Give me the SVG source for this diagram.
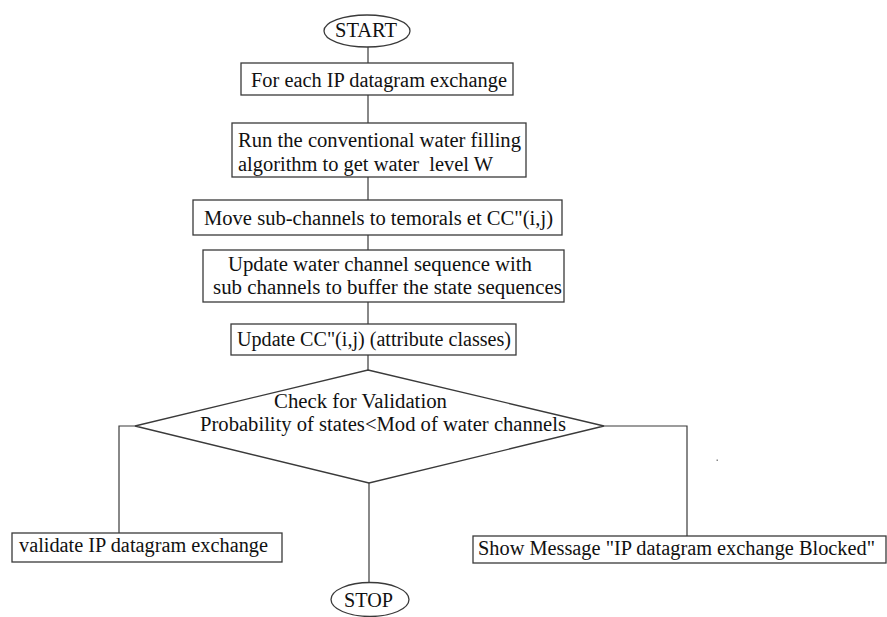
<svg xmlns="http://www.w3.org/2000/svg" width="887" height="617" viewBox="0 0 887 617">
<style>
.s{fill:#fff;stroke:#3a3a3a;stroke-width:1.3}
.c{fill:none;stroke:#3a3a3a;stroke-width:1.2}
.t{font-family:'Liberation Serif','DejaVu Serif',serif;font-size:20.5px;fill:#111}
</style>
<rect width="887" height="617" fill="#fff"/>
<g id="connectors">
<path class="c" d="M368 47V63M368 95V123M368 177V200M368 235V250M368 302V324M368 355V370"/>
<path class="c" d="M135 426H119V533"/>
<path class="c" d="M604 426H687V536"/>
<path class="c" d="M369 483V582"/>
</g>
<g class="t" font-family="Liberation Serif, DejaVu Serif, serif">
<g id="start">
<ellipse class="s" cx="367" cy="31" rx="43" ry="16"/>
<text x="335" y="37" textLength="62" lengthAdjust="spacingAndGlyphs">START</text>
</g>
<g id="n1">
<rect class="s" x="241" y="63" width="272" height="32"/>
<text x="251" y="87" textLength="256" lengthAdjust="spacingAndGlyphs">For each IP datagram exchange</text>
</g>
<g id="n2">
<rect class="s" x="232" y="123" width="294" height="54"/>
<text x="238" y="147" textLength="283" lengthAdjust="spacingAndGlyphs">Run the conventional water filling</text>
<text x="238" y="171" textLength="255" lengthAdjust="spacingAndGlyphs" xml:space="preserve">algorithm to get water  level W</text>
</g>
<g id="n3">
<rect class="s" x="193" y="200" width="369" height="35"/>
<text x="204" y="225" textLength="349" lengthAdjust="spacingAndGlyphs">Move sub-channels to temorals et CC"(i,j)</text>
</g>
<g id="n4">
<rect class="s" x="203" y="250" width="361" height="52"/>
<text x="228" y="271" textLength="304" lengthAdjust="spacingAndGlyphs">Update water channel sequence with</text>
<text x="213" y="294" textLength="349" lengthAdjust="spacingAndGlyphs">sub channels to buffer the state sequences</text>
</g>
<g id="n5">
<rect class="s" x="231" y="324" width="285" height="31"/>
<text x="237" y="346" textLength="274" lengthAdjust="spacingAndGlyphs">Update CC"(i,j) (attribute classes)</text>
</g>
<g id="decision">
<polygon class="s" points="368,370 604,426 369,483 135,426"/>
<text x="274" y="408" textLength="173" lengthAdjust="spacingAndGlyphs">Check for Validation</text>
<text x="200" y="431" textLength="366" lengthAdjust="spacingAndGlyphs">Probability of states&lt;Mod of water channels</text>
</g>
<g id="validate">
<rect class="s" x="12" y="533" width="270" height="29"/>
<text x="19" y="552" textLength="249" lengthAdjust="spacingAndGlyphs">validate IP datagram exchange</text>
</g>
<g id="blocked">
<rect class="s" x="473" y="536" width="413" height="27"/>
<text x="478" y="555" textLength="397" lengthAdjust="spacingAndGlyphs">Show Message "IP datagram exchange Blocked"</text>
</g>
<g id="stop">
<ellipse class="s" cx="370" cy="599.5" rx="39" ry="17"/>
<text x="344" y="607" textLength="49" lengthAdjust="spacingAndGlyphs">STOP</text>
</g>
</g>
<rect x="716.5" y="459.5" width="1.5" height="1.5" fill="#888"/>
</svg>
